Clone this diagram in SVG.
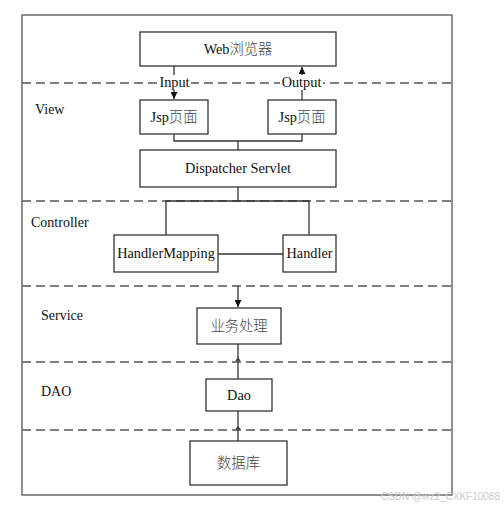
<svg xmlns="http://www.w3.org/2000/svg" width="504" height="508" viewBox="0 0 504 508">
<defs>
<style>
.box{fill:#fff;stroke:#333;stroke-width:1.3}
.t{font-family:"Liberation Serif","Noto Sans CJK SC",serif;font-size:14.3px;fill:#111;text-anchor:middle;dominant-baseline:central}
.cj{fill:#444;font-weight:300}
.lbl{font-family:"Liberation Serif",serif;font-size:14px;fill:#111;dominant-baseline:central}
.dash{stroke:#555;stroke-width:1.3;stroke-dasharray:9,5;fill:none}
.ln{stroke:#333;stroke-width:1.3;fill:none}
</style>
<marker id="ah" viewBox="0 0 10 10" refX="10" refY="5" markerWidth="7" markerHeight="7" orient="auto" markerUnits="userSpaceOnUse"><path d="M0,0 L10,5 L0,10 Z" fill="#111"/></marker>
</defs>
<rect x="0" y="0" width="504" height="508" fill="#fff"/>
<rect x="22" y="15" width="430" height="480" fill="none" stroke="#555" stroke-width="1.3"/>
<g id="layers">
<line class="dash" x1="22" y1="83" x2="452" y2="83"/>
<line class="dash" x1="22" y1="201" x2="452" y2="201"/>
<line class="dash" x1="22" y1="286" x2="452" y2="286"/>
<line class="dash" x1="22" y1="362" x2="452" y2="362"/>
<line class="dash" x1="22" y1="430" x2="452" y2="430"/>
<text class="lbl" x="35" y="109">View</text>
<text class="lbl" x="31" y="222">Controller</text>
<text class="lbl" x="41" y="315">Service</text>
<text class="lbl" x="41" y="391">DAO</text>
</g>
<g id="connectors">
<line class="ln" x1="174" y1="66" x2="174" y2="99" marker-end="url(#ah)"/>
<line class="ln" x1="302" y1="100" x2="302" y2="67" marker-end="url(#ah)"/>
<rect x="158" y="75" width="33" height="15" fill="#fff"/>
<text class="t" x="174.5" y="82">Input</text>
<rect x="280" y="75" width="43" height="15" fill="#fff"/>
<text class="t" x="301.5" y="82">Output</text>
<polyline class="ln" points="174,134 174,141 302,141 302,134"/>
<line class="ln" x1="238" y1="141" x2="238" y2="150"/>
<line class="ln" x1="238" y1="187" x2="238" y2="201"/>
<polyline class="ln" points="166,235 166,201 309,201 309,235"/>
<line class="ln" x1="218" y1="254" x2="283" y2="254"/>
<line class="ln" x1="238" y1="286" x2="238" y2="307" marker-end="url(#ah)"/>
<line class="ln" x1="238" y1="379" x2="238" y2="344"/>
<path class="ln" d="M236,361 L238,358.5 L240,361" stroke-width="1"/>
<line class="ln" x1="238" y1="441" x2="238" y2="411"/>
<path class="ln" d="M236,429.5 L238,427 L240,429.5" stroke-width="1"/>
</g>
<g id="web"><rect class="box" x="140" y="32" width="196" height="34"/><text class="t" x="238" y="49">Web<tspan class="cj">浏览器</tspan></text></g>
<g id="jsp1"><rect class="box" x="140" y="100" width="68" height="34"/><text class="t" x="174" y="117">Jsp<tspan class="cj">页面</tspan></text></g>
<g id="jsp2"><rect class="box" x="268" y="100" width="68" height="34"/><text class="t" x="302" y="117">Jsp<tspan class="cj">页面</tspan></text></g>
<g id="dispatcher"><rect class="box" x="140" y="150" width="196" height="37"/><text class="t" x="238" y="168">Dispatcher Servlet</text></g>
<g id="handlermapping"><rect class="box" x="114" y="235" width="104" height="37"/><text class="t" x="166" y="253">HandlerMapping</text></g>
<g id="handler"><rect class="box" x="283" y="235" width="53" height="37"/><text class="t" x="309.5" y="253">Handler</text></g>
<g id="service"><rect class="box" x="197" y="308" width="84" height="36"/><text class="t cj" x="239" y="326">业务处理</text></g>
<g id="dao"><rect class="box" x="206" y="379" width="66" height="32"/><text class="t" x="239" y="395">Dao</text></g>
<g id="db"><rect class="box" x="190" y="441" width="97" height="44"/><text class="t cj" x="238.5" y="463">数据库</text></g>
<text x="500" y="496" font-family="Liberation Sans, sans-serif" font-size="10" fill="#ccc" text-anchor="end" dominant-baseline="central">CSDN @wz2_CXKF10088</text>
</svg>
